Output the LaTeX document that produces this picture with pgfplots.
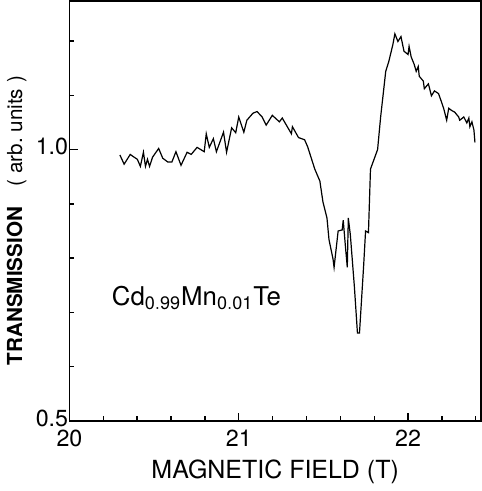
\documentclass[border=0pt]{standalone}
\usepackage{pgfplots}
\pgfplotsset{compat=1.18}
\usepackage{fontspec}
\setmainfont{TeX Gyre Heros}
\begin{document}
\fontsize{12}{14}\selectfont
\begin{tikzpicture}
\begin{axis}[
scale only axis,
width=8.4cm,
height=8.58cm,
xmin=20, xmax=22.43,
ymin=0.5, ymax=1.274,
axis line style={line width=0.9pt},
tick style={black, line width=0.8pt},
tick align=inside,
xtick pos=left, ytick pos=left,
xtick={20,21,22},
minor xtick={20.2,20.4,20.6,20.8,21.2,21.4,21.6,21.8,22.2,22.4},
ytick={0.5,1.0},
minor ytick={0.6,0.7,0.8,0.9,1.1,1.2},
major tick length=0.17cm,
minor tick length=0.1cm,
/pgf/number format/assume math mode=true,
yticklabel style={xshift=0.12cm, yshift=0.06cm, /pgf/number format/fixed, /pgf/number format/fixed zerofill, /pgf/number format/precision=1},
xticklabel style={yshift=-0.04cm, /pgf/number format/fixed, /pgf/number format/precision=0},
xlabel={MAGNETIC FIELD (T)},
ylabel={\textbf{TRANSMISSION}\quad( arb.\ units )},
xlabel style={yshift=0.02cm, font=\fontsize{14.5}{16}\selectfont},
ylabel style={yshift=-0.1cm, xshift=-0.2cm, font=\fontsize{12}{15}\selectfont},
every tick label/.append style={font=\fontsize{13.5}{16}\selectfont},
]
\addplot[black, line width=0.7pt] coordinates {
(20.298,0.990) (20.323,0.973) (20.359,0.991) (20.377,0.987) (20.401,0.982)
(20.419,0.969) (20.437,0.995) (20.449,0.969) (20.461,0.982) (20.473,0.969)
(20.491,0.986) (20.527,1.002) (20.551,0.984) (20.581,0.977) (20.605,0.977)
(20.629,0.996) (20.659,0.971) (20.695,0.995) (20.719,0.991) (20.754,1.004)
(20.796,0.996) (20.808,1.029) (20.826,1.004) (20.850,1.020) (20.868,0.996)
(20.910,1.032) (20.928,0.995) (20.958,1.040) (20.982,1.031) (21.000,1.060)
(21.030,1.032) (21.048,1.054) (21.084,1.067) (21.108,1.070) (21.138,1.060)
(21.162,1.045) (21.198,1.063) (21.240,1.051) (21.257,1.058) (21.311,1.029)
(21.317,1.042) (21.353,1.022) (21.389,1.018) (21.407,1.005) (21.449,0.964)
(21.479,0.942) (21.497,0.904) (21.521,0.874) (21.533,0.834) (21.557,0.798)
(21.563,0.783) (21.587,0.850) (21.611,0.852) (21.617,0.870) (21.629,0.825)
(21.641,0.783) (21.647,0.874) (21.659,0.843) (21.683,0.747) (21.701,0.662)
(21.713,0.662) (21.737,0.783) (21.749,0.850) (21.766,0.847) (21.778,0.964)
(21.820,1.000) (21.838,1.060) (21.868,1.144) (21.886,1.162) (21.910,1.193)
(21.922,1.213) (21.940,1.199) (21.958,1.208) (21.976,1.181) (22.000,1.175)
(22.006,1.190) (22.018,1.171) (22.036,1.157) (22.048,1.144) (22.060,1.153)
(22.066,1.135) (22.090,1.126) (22.096,1.112) (22.120,1.121) (22.138,1.099)
(22.156,1.108) (22.180,1.103) (22.198,1.087) (22.210,1.076) (22.228,1.054)
(22.240,1.076) (22.257,1.072) (22.275,1.069) (22.299,1.060) (22.305,1.054)
(22.329,1.060) (22.347,1.049) (22.359,1.058) (22.365,1.042) (22.377,1.051)
(22.389,1.036) (22.395,1.013)
};
\node[font=\fontsize{15}{17}\selectfont] at (axis cs:20.75,0.726) {Cd$_{\mathrm{0.99}}$Mn$_{\mathrm{0.01}}$Te};
\end{axis}
\end{tikzpicture}
\end{document}
